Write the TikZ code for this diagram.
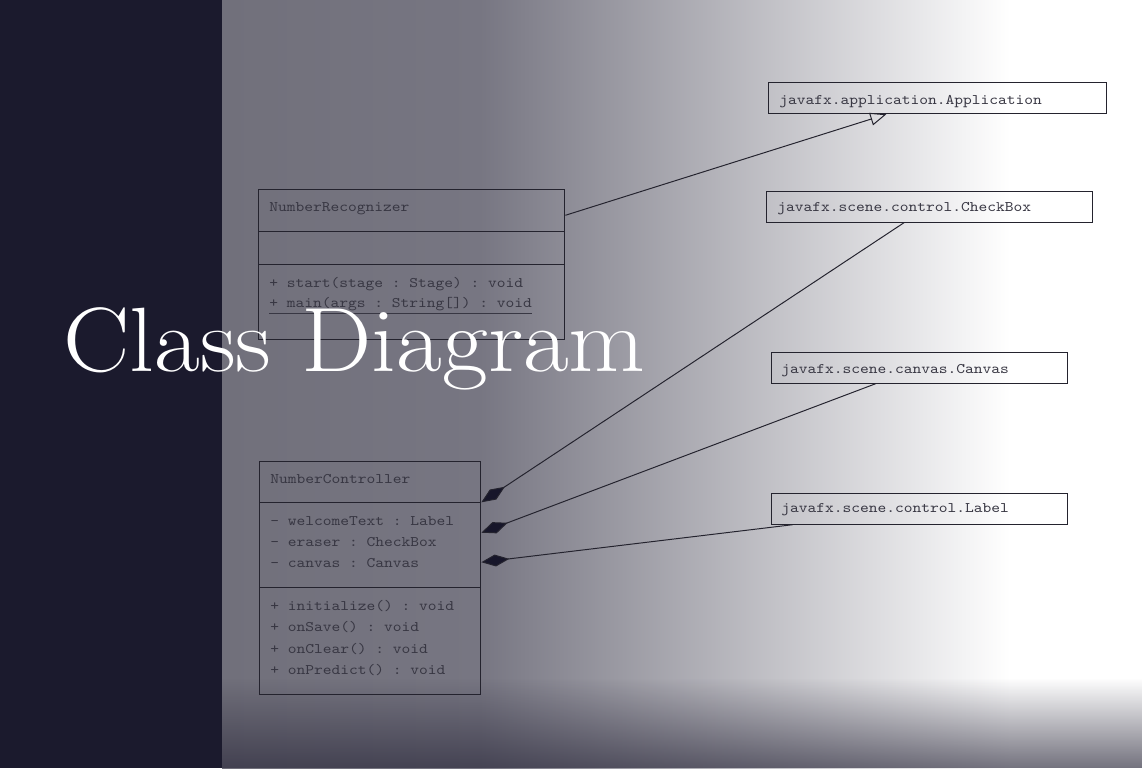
\documentclass[tikz,border=0pt]{standalone}
\usepackage{fontspec}
\setmonofont{lmmono10-regular.otf}[FakeStretch=1.14]
\usepackage{xcolor}
\usetikzlibrary{arrows.meta}
\usetikzlibrary{calc,fadings}

\definecolor{panelnavy}{HTML}{1B1A2D}
\definecolor{slategray}{HTML}{71707B}
\definecolor{midgray}{HTML}{777682}
\definecolor{bandshade}{HTML}{2B293B}
\definecolor{umlline}{HTML}{24232E}
\definecolor{umltext}{HTML}{383743}
\definecolor{diamondfill}{HTML}{17162A}

\tikzfading[name=fade band, top color=transparent!100, bottom color=transparent!34]

\tikzset{
    classbox/.style={
        draw=umlline,
        line width=0.7pt,
        anchor=north west,
        inner sep=0pt,
        minimum height=0.775cm
    },
    member/.style={
        anchor=base west,
        inner sep=0pt,
        text=umltext,
        font=\ttfamily\fontsize{10.4}{12}\selectfont
    },
    connector/.style={
        draw=umlline,
        line width=0.7pt
    },
    extends/.style={
        connector,
        -{Triangle[open, length=11.4pt, width=9.2pt]}
    },
    owns/.style={
        connector,
        -{Diamond[length=20pt, width=8.5pt, fill=diamondfill]}
    }
}

\begin{document}
\begin{tikzpicture}[x=0.025cm, y=-0.025cm]
    % background
    \fill[panelnavy] (0,0) rectangle (222,768);
    \fill[white] (222,0) rectangle (1142,768);
    \shade[left color=slategray, right color=midgray] (222,0) rectangle (480,768);
    \shade[left color=midgray, right color=white] (480,0) rectangle (1010,768);
    \fill[bandshade, path fading=fade band] (222,678) rectangle (1142,768);

    % classes
    \node[classbox, minimum width=7.65cm, minimum height=3.75cm] (rec) at (258.3,189.3) {};
    \node[classbox, minimum width=5.525cm, minimum height=5.825cm] (ctrl) at (259.3,460.7) {};
    \node[classbox, minimum width=8.45cm] (app) at (768.3,82.3) {};
    \node[classbox, minimum width=8.15cm] (cb) at (766,190.7) {};
    \node[classbox, minimum width=7.4cm] (cv) at (770.7,351.7) {};
    \node[classbox, minimum width=7.4cm] (lb) at (770.7,492.7) {};

    \draw[connector] ($(rec.north west)+(0,42.4)$) -- ($(rec.north east)+(0,42.4)$);
    \draw[connector] ($(rec.north west)+(0,74.7)$) -- ($(rec.north east)+(0,74.7)$);
    \draw[connector] ($(ctrl.north west)+(0,41.6)$) -- ($(ctrl.north east)+(0,41.6)$);
    \draw[connector] ($(ctrl.north west)+(0,127)$) -- ($(ctrl.north east)+(0,127)$);

    \node[member] (recname) at (269,211.5) {NumberRecognizer};
    \node[member] (recstart) at (269,287) {+ start(stage : Stage) : void};
    \node[member] (recmain) at (269,307.7) {\underline{+ main(args : String[]) : void}};

    \node[member] (ctrlname) at (270,483) {NumberController};
    \node[member] (ctrlwelcome) at (270,525.3) {- welcomeText : Label};
    \node[member] (ctrleraser) at (270,546.5) {- eraser : CheckBox};
    \node[member] (ctrlcanvas) at (270,567.5) {- canvas : Canvas};
    \node[member] (ctrlinit) at (270,610.7) {+ initialize() : void};
    \node[member] (ctrlsave) at (270,631.8) {+ onSave() : void};
    \node[member] (ctrlclear) at (270,653) {+ onClear() : void};
    \node[member] (ctrlpredict) at (270,674) {+ onPredict() : void};

    \node[member] (appname) at (779,104.3) {javafx.application.Application};
    \node[member] (cbname) at (777,211.7) {javafx.scene.control.CheckBox};
    \node[member] (cvname) at (781,373.3) {javafx.scene.canvas.Canvas};
    \node[member] (lbname) at (781,512.3) {javafx.scene.control.Label};

    % relations
    \draw[extends] ($(rec.north east)+(0,26)$) -- ($(app.south west)+(118,0)$);
    \draw[owns] ($(cb.south west)+(138,0)$) -- ($(ctrl.north east)+(0,41.6)$);
    \draw[owns] ($(cv.south west)+(105,0)$) -- ($(ctrl.north east)+(0,72)$);
    \draw[owns] ($(lb.south west)+(22,0)$) -- ($(ctrl.north east)+(0,101.5)$);

    % title
    \node[anchor=base west, inner sep=0pt, text=white, font=\fontsize{65}{78}\selectfont] (title) at (63,371.7) {\scalebox{1.088}[1]{Class Diagram}};
\end{tikzpicture}
\end{document}
